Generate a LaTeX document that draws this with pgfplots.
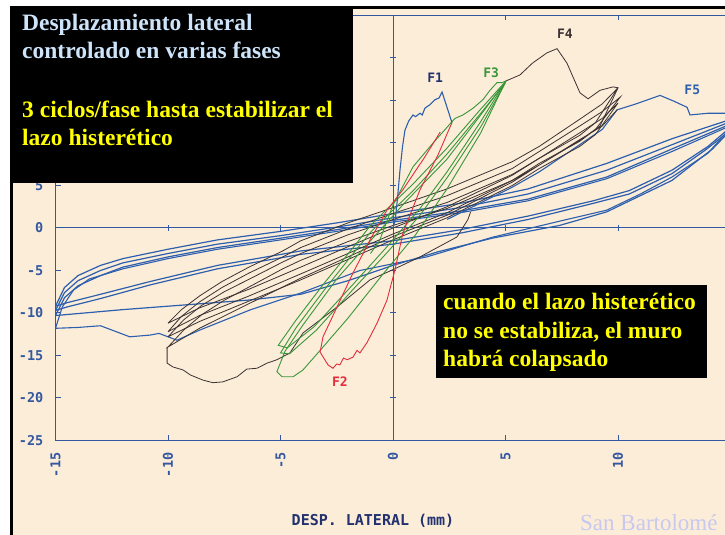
\documentclass[border=0pt]{standalone}
\usepackage{fontspec}
\setmainfont{Liberation Serif}
\newfontfamily\plotfont{DejaVu Sans Mono}
\usepackage{pgfplots}
\pgfplotsset{compat=1.18}
\definecolor{cream}{RGB}{252,237,217}
\definecolor{axcol}{RGB}{52,88,160}
\definecolor{labcol}{RGB}{35,50,110}
\definecolor{blu}{RGB}{45,95,175}
\definecolor{blk}{RGB}{60,50,50}
\definecolor{grn}{RGB}{55,150,55}
\definecolor{rd}{RGB}{225,45,60}
\definecolor{ttl}{RGB}{205,228,250}
\definecolor{yel}{RGB}{255,255,0}
\definecolor{lav}{RGB}{200,200,240}
\begin{document}
\begin{tikzpicture}
\useasboundingbox (0,0) rectangle (725pt,535pt);
\fill[white] (0,0) rectangle (725pt,535pt);
\fill[black] (10pt,0pt) rectangle (725pt,529pt);
\fill[cream] (13pt,0pt) rectangle (725pt,526pt);
\clip (0,0) rectangle (725pt,535pt);

% centre lines with ticks
\begin{axis}[at={(55.5pt,94.5pt)}, anchor=south west, scale only axis,
  width=675pt, height=425pt, xmin=-15, xmax=15, ymin=-25, ymax=25,
  axis lines=middle, axis line style={-, axcol, line width=1pt},
  xtick={-10,-5,5,10}, ytick={-20,-15,-10,-5,5,10,15,20},
  xticklabels={}, yticklabels={}, tick align=center, major tick length=6pt,
  tick style={axcol, line width=1pt}]
\addplot[draw=none] coordinates {(0,0)};
\end{axis}

\begin{axis}[at={(55.5pt,94.5pt)}, anchor=south west, scale only axis,
  width=675pt, height=425pt, xmin=-15, xmax=15, ymin=-25, ymax=25,
  axis line style={axcol, line width=1.1pt},
  xtick={-15,-10,-5,0,5,10,15}, xticklabels={-15,-10,-5,0,5,10,{}},
  ytick={-25,-20,-15,-10,-5,0,5,10,15,20,25},
  yticklabels={-25,-20,-15,-10,-5,0,5,{},{},{},{}},
  tick style={axcol, line width=1pt}, major tick length=5pt, tick align=inside,
  ticklabel style={font=\plotfont\bfseries\fontsize{13.5}{13.5}\selectfont, text=axcol},
  xticklabel style={rotate=90, anchor=east, inner sep=0pt},
  yticklabel style={anchor=east, inner sep=0pt},
  xticklabel shift=12pt, yticklabel shift=12pt,
  no markers, clip=true]

% ---------- F5 (blue) ----------
\addplot[blu, line width=1.2pt] coordinates {
(-15,-9.2) (-14.6,-7.0) (-14.0,-5.6) (-13,-4.4) (-12,-3.6) (-10,-2.5) (-7.8,-1.4) (-5,-0.4) (-2.5,0.6) (0,1.7) (3,2.9) (6,4.6) (9.5,7.6) (12.4,10.5) (14.8,12.6) (15.2,13.0)
(14.8,11.4) (14.0,9.6) (12.4,6.8) (10.5,4.4) (8.9,3.2) (6,1.4) (3,-0.2) (0,-1.5) (-4.1,-2.7) (-7.8,-4.4) (-10.8,-6.3) (-13,-7.8) (-14.5,-8.8) (-15,-9.2)};
\addplot[blu, line width=1.2pt] coordinates {
(-15,-9.7) (-14.6,-7.6) (-14.0,-6.2) (-13,-5.0) (-12,-4.1) (-10,-3.0) (-7.8,-1.9) (-5,-0.9) (-2.5,0.1) (0,1.2) (3,2.4) (6,4.0) (9.5,6.8) (12.4,9.8) (14.8,12.3) (15.2,12.7)
(14.8,11.1) (13.9,9.2) (12.4,6.4) (10.5,4.0) (8.9,2.9) (6,1.0) (3,-0.6) (0,-1.9) (-4.1,-3.1) (-7.8,-4.8) (-10.8,-6.7) (-13,-8.3) (-14.5,-9.3) (-15,-9.7)};
\addplot[blu, line width=1.2pt] coordinates {
(-15,-10.3) (-14.6,-8.2) (-14,-6.8) (-13,-5.6) (-12,-4.6) (-10,-3.4) (-7.8,-2.3) (-5,-1.2) (-2.5,-0.2) (0,0.9) (3,2.0) (6,3.4) (9.5,6.0) (12.4,9.3) (14.8,12.0) (15.2,12.4)
(15,11.5) (14.2,9.3) (12.4,5.6) (9.5,1.9) (7.4,0.3) (4.4,-1.2) (2,-2.8) (0,-4.4) (-2,-6.2) (-4.1,-7.8) (-6.5,-8.5) (-9,-9.0) (-12,-9.6) (-15,-10.3)};
\addplot[blu, line width=1.1pt] coordinates {
(2.4,1.0) (5.3,4.8) (6.5,6.6) (8.3,9.8) (9.3,11.6) (9.96,13.9) (10.8,14.6) (11.87,15.6) (12.5,14.9) (13.07,14.2) (13.2,13.3) (14.0,13.5) (15.2,13.5)
(15.2,12.5) (14.8,11.2) (14.0,8.8) (12.4,6.0) (11,4.0) (9.5,2.1) (7.4,0.8) (4.4,-1.1) (1.5,-3.4) (-1.47,-5.0) (-4.1,-7.65) (-6.36,-9.65) (-8.58,-12.0) (-9.6,-13.2) (-9.9,-12.9) (-10.4,-12.4) (-10.8,-12.6) (-11.7,-12.8) (-12.3,-12.2) (-13.0,-11.5) (-14.0,-11.7) (-15.0,-11.8)
(-14.7,-9.3) (-14.2,-7.3) (-13.5,-6.0) (-12,-4.8) (-10,-3.6) (-7.8,-2.5) (-5,-1.4) (-2.5,-0.4) (0,0.7) (3,1.8) (6,3.2) (9.5,5.8) (12.4,9.0) (14.8,11.8) (15.2,12.2)};

% ---------- F4 (black) ----------
\addplot[blk, line width=0.8pt] coordinates {
(5.02,17.3) (5.64,18.0) (6.2,19.4) (6.84,20.6) (7.29,21.1) (7.73,19.4) (8.31,15.9) (8.67,15.2) (9.2,16.2) (9.78,16.6) (10.0,16.5)
(9.2,12.0) (8.3,10.3) (6.5,7.4) (5.3,5.4) (2.4,1.5) (0,-1.0) (-2,-3.4) (-4.1,-5.9) (-6.4,-8.9) (-8.6,-11.8) (-10,-14.0)
(-9.3,-12.0) (-8.5,-10.2) (-7.5,-8.5) (-6.3,-6.8) (-4.9,-4.8) (-4.1,-3.8) (-2,-1.6) (0,0.3) (2.4,2.3) (5.3,5.6) (6.5,7.4) (8.3,10.4) (9.3,12.0) (9.96,13.9)};
\addplot[blk, line width=0.8pt] coordinates {
(-10,-11.2) (-9.4,-9.6) (-8.6,-8.0) (-7.6,-6.3) (-6.4,-4.6) (-4.9,-2.7) (-4.1,-1.5) (-2,0.6) (0,2.4) (2.4,4.6) (5.3,7.8) (6.5,9.6) (8.3,12.8) (9.3,14.6) (10,16.5)
(9.0,12.4) (8.3,10.9) (6.5,8.2) (5.3,6.2) (2.4,2.5) (0,0) (-2,-2.2) (-4.1,-4.6) (-6.4,-7.2) (-8.6,-9.4) (-10,-11.2)};
\addplot[blk, line width=0.8pt] coordinates {
(-10,-12.2) (-9.4,-10.4) (-8.6,-8.7) (-7.6,-7.0) (-6.4,-5.3) (-4.9,-3.4) (-4.1,-2.3) (-2,-0.1) (0,1.7) (2.4,3.8) (5.3,7.0) (6.5,9.0) (8.3,12.0) (9.3,13.7) (10.1,15.4)
(9.0,11.6) (8.3,10.2) (6.5,7.6) (5.3,5.6) (2.4,1.8) (0,-0.7) (-2,-3.0) (-4.1,-5.4) (-6.4,-8.0) (-8.6,-10.3) (-10,-12.2)};
\addplot[blk, line width=0.8pt] coordinates {
(-10,-12.8) (-9.3,-10.8) (-8.5,-9.1) (-7.5,-7.5) (-6.3,-5.9) (-4.9,-4.0) (-4.1,-3.0) (-2,-0.8) (0,1.0) (2.4,3.0) (5.3,6.3) (6.5,8.2) (8.3,11.2) (9.3,12.9) (10,14.7)
(9.0,11.0) (8.3,9.6) (6.5,7.0) (5.3,5.0) (2.4,1.2) (0,-1.4) (-2,-3.7) (-4.1,-6.1) (-6.4,-8.6) (-8.6,-11.0) (-10,-12.8)};
\addplot[blk, line width=0.8pt] coordinates {
(3.45,1.9) (3.33,1.0) (2.84,-1.06) (1.2,-3.4) (0,-4.9) (-1.02,-6.1) (-2.49,-9.3) (-4.0,-12.35) (-4.58,-14.7) (-5.16,-15.5) (-5.6,-15.9) (-6.04,-16.5) (-6.5,-16.6) (-6.93,-17.5) (-7.56,-18.1) (-8.0,-18.2) (-8.44,-17.9) (-9.0,-17.3) (-9.33,-16.7) (-9.78,-16.35) (-10.04,-15.9) (-10.04,-14.0)};

% ---------- F3 (green) ----------
\addplot[grn, line width=0.9pt] coordinates {
(-1.0,-3.0) (-0.6,-1.5) (0,2.7) (0.89,7.2) (1.78,10.0) (2.62,12.5) (2.76,12.9) (3.11,13.3) (3.56,14.1) (4.0,15.1) (4.31,16.2) (4.62,17.1) (4.84,17.1) (5.02,17.3)};
\addplot[grn, line width=0.9pt] coordinates {
(5.02,17.3) (3.87,13.9) (2.4,9.4) (0.9,5.2) (-0.2,2.4) (-1.0,0.3) (-1.8,-2.4) (-3.0,-6.3) (-4.3,-10.8) (-5.1,-13.8) (-4.7,-14.1) (-3.5,-11.6) (-1.8,-6.7) (-0.3,-2.3) (1.2,2.3) (2.4,6.6) (3.87,12.4) (5.02,17.3)};
\addplot[grn, line width=0.9pt] coordinates {
(5.0,17.1) (3.9,13.5) (2.4,8.7) (0.9,4.4) (-0.2,1.6) (-1.0,-0.5) (-1.8,-3.1) (-3.0,-7.1) (-4.3,-11.7) (-5.0,-14.7) (-4.6,-14.8) (-3.4,-12.0) (-1.8,-7.3) (-0.3,-3.0) (1.2,1.5) (2.4,5.9) (3.9,11.9) (5.0,17.1)};
\addplot[grn, line width=0.9pt] coordinates {
(5.02,17.3) (3.87,13.2) (2.4,8.1) (0.6,3.2) (-1.0,-1.5) (-2.5,-6.0) (-4.0,-11.4) (-4.8,-14.5) (-5.16,-16.9) (-4.93,-17.5) (-4.44,-17.5) (-4.0,-16.7) (-3.24,-14.4) (-2.0,-10.6) (-0.5,-5.6) (1.0,-0.8) (2.4,4.6) (3.9,11.2) (5.02,17.3)};

% ---------- F2 (red) ----------
\addplot[rd, line width=0.9pt] coordinates {
(2.62,12.4) (2.0,8.6) (1.2,4.5) (0.44,-0.6) (0.09,-4.9) (-0.27,-8.5) (-0.71,-11.2) (-1.16,-13.5) (-1.47,-14.7) (-1.6,-14.4) (-1.78,-15.2) (-2.04,-15.5) (-2.2,-15.3) (-2.36,-16.1) (-2.5,-16.0) (-2.67,-16.5) (-2.89,-16.1) (-3.24,-14.6) (-3.11,-12.8) (-2.49,-9.3) (-1.78,-5.3) (-1.02,-1.4) (-0.27,2.1) (0.44,4.5) (1.4,8.3) (2.1,11.3)};

% ---------- F1 (blue) ----------
\addplot[blu, line width=1.1pt] coordinates {
(0,0) (0.1,1.0) (0.2,3.5) (0.31,6.8) (0.42,9.5) (0.53,11.5) (0.7,12.6) (0.89,13.3) (1.0,13.1) (1.2,13.5) (1.3,13.3) (1.42,14.1) (1.64,14.5) (1.87,15.1) (2.05,15.3) (2.18,16.0) (2.4,14.2) (2.62,12.4)};

\node[font=\plotfont\bfseries\fontsize{13}{13}\selectfont, text=labcol] at (axis cs:1.87,17.7) {F1};
\node[font=\plotfont\bfseries\fontsize{13}{13}\selectfont, text=rd] at (axis cs:-2.36,-18.1) {F2};
\node[font=\plotfont\bfseries\fontsize{13}{13}\selectfont, text=grn] at (axis cs:4.36,18.3) {F3};
\node[font=\plotfont\bfseries\fontsize{13}{13}\selectfont, text=blk] at (axis cs:7.64,22.9) {F4};
\node[font=\plotfont\bfseries\fontsize{13}{13}\selectfont, text=blu] at (axis cs:13.3,16.2) {F5};
\end{axis}

% x label and credit
\node[font=\plotfont\bfseries\fontsize{15}{15}\selectfont, text=labcol] at (373pt,14pt) {DESP. LATERAL (mm)};
\node[anchor=base west, inner sep=0pt, font=\fontsize{23}{23}\selectfont, text=lav] at (580pt,4pt) {San Bartolomé};

% black text boxes
\fill[black] (10pt,352pt) rectangle (353pt,529pt);
\node[anchor=base west, inner sep=0pt, text=ttl, font=\bfseries\fontsize{23.5}{28}\selectfont] at (22pt,504pt) {Desplazamiento lateral};
\node[anchor=base west, inner sep=0pt, text=ttl, font=\bfseries\fontsize{23.5}{28}\selectfont] at (22pt,476pt) {controlado en varias fases};
\node[anchor=base west, inner sep=0pt, text=yel, font=\bfseries\fontsize{23.5}{28}\selectfont] at (22pt,417pt) {3 ciclos/fase hasta estabilizar el};
\node[anchor=base west, inner sep=0pt, text=yel, font=\bfseries\fontsize{23.5}{28}\selectfont] at (22pt,389pt) {lazo histerético};

\fill[black] (436pt,157pt) rectangle (707pt,250pt);
\node[anchor=base west, inner sep=0pt, text=yel, font=\bfseries\fontsize{23.5}{28}\selectfont] at (443pt,225pt) {cuando el lazo histerético};
\node[anchor=base west, inner sep=0pt, text=yel, font=\bfseries\fontsize{23.5}{28}\selectfont] at (443pt,196pt) {no se estabiliza, el muro};
\node[anchor=base west, inner sep=0pt, text=yel, font=\bfseries\fontsize{23.5}{28}\selectfont] at (443pt,168pt) {habrá colapsado};
\end{tikzpicture}
\end{document}
